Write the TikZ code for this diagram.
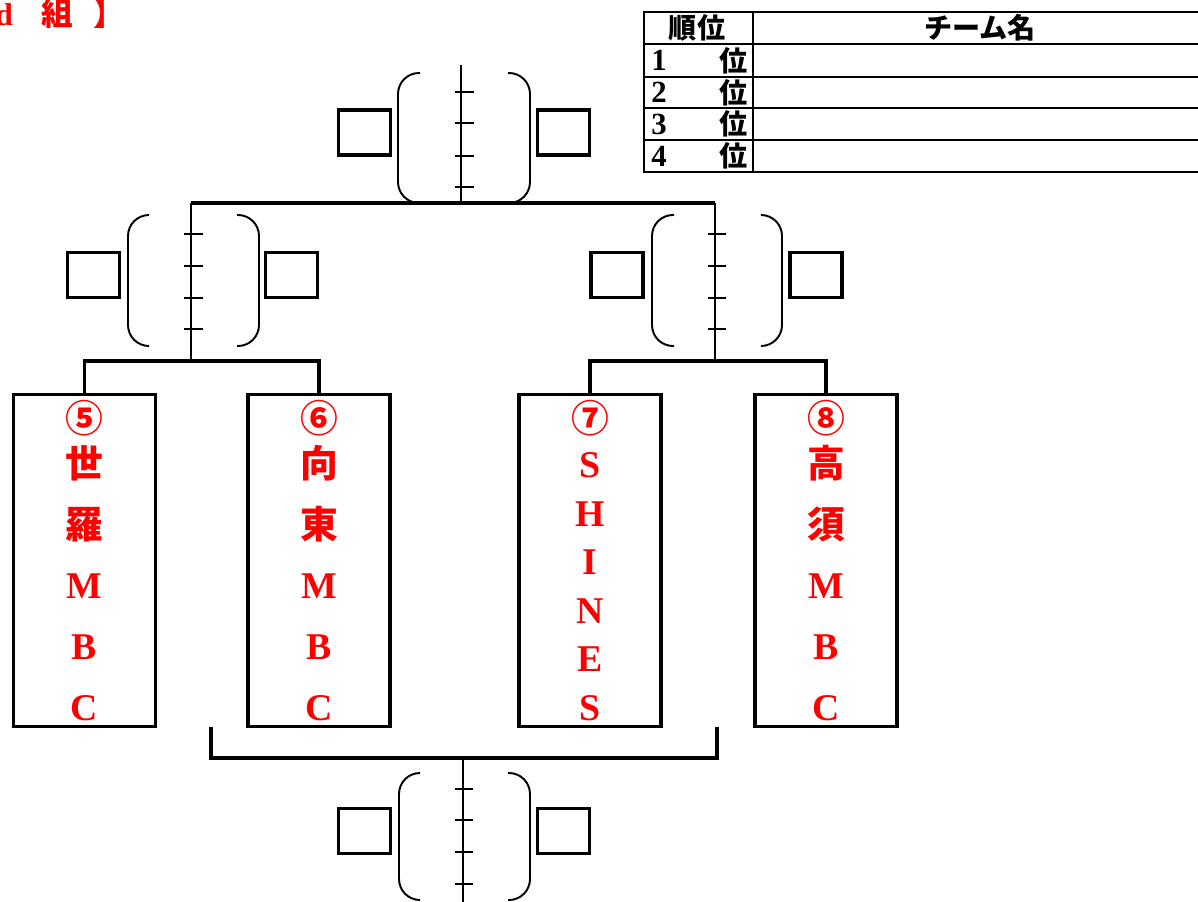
\documentclass[tikz,border=0pt]{standalone}
\usepackage{fontspec}
\setmainfont{Liberation Serif}
\newfontfamily\jpfont{Noto Sans CJK JP Bold}
\newcommand{\jp}[1]{{\jpfont #1}}

\tikzset{
  teambox/.style={draw, line width=1.8pt, minimum width=2.84cm, minimum height=6.6cm, align=center, text=red, font=\fontsize{21.5}{#1}\selectfont\bfseries},
  teambox/.default=34.6pt,
  scorebox/.style={draw, line width=1.8pt, minimum width=1.04cm, minimum height=0.9cm},
  paren/.style={line width=1.1pt, rounded corners=0.42cm},
  bracketline/.style={line width=1.8pt},
  tickline/.style={line width=0.85pt},
  tableline/.style={line width=1.7pt},
  tabletext/.style={font=\fontsize{16}{16}\selectfont\bfseries, inner sep=0pt}
}

\begin{document}
\begin{tikzpicture}[x=0.02cm, y=-0.02cm]
\useasboundingbox (0,0) rectangle (1198,902);

% Title
\node[anchor=base west, inner sep=0pt, text=red, font=\fontsize{18}{18}\selectfont\bfseries] (title) at (-5,26) {d\hspace{16pt}\jp{組}\hspace{12pt}\jp{】}};

% Ranking table
\draw[tableline] (644,12) rectangle (1215,172);
\draw[tableline] (644,44) -- (1215,44) (644,77) -- (1215,77) (644,108) -- (1215,108) (644,140) -- (1215,140);
\draw[tableline] (753,12) -- (753,172);
\node[tabletext] (rankhead) at (697,28) {\jp{順位}};
\node[tabletext] (teamhead) at (980,28) {\jp{チーム名}};
\node[tabletext, font=\fontsize{17.5}{17.5}\selectfont\bfseries, anchor=west] (n1) at (651,60.5) {1};
\node[tabletext] (r1) at (734,60.5) {\jp{位}};
\node[tabletext, font=\fontsize{17.5}{17.5}\selectfont\bfseries, anchor=west] (n2) at (651,92.5) {2};
\node[tabletext] (r2) at (734,92.5) {\jp{位}};
\node[tabletext, font=\fontsize{17.5}{17.5}\selectfont\bfseries, anchor=west] (n3) at (651,124) {3};
\node[tabletext] (r3) at (734,124) {\jp{位}};
\node[tabletext, font=\fontsize{17.5}{17.5}\selectfont\bfseries, anchor=west] (n4) at (651,156) {4};
\node[tabletext] (r4) at (734,156) {\jp{位}};

% Teams
\node[teambox] (t5) at (84.5,560.5) {\jp{⑤}\\[-9pt]\jp{世}\\\jp{羅}\\M\\B\\C};
\node[teambox] (t6) at (319,560.5) {\jp{⑥}\\[-9pt]\jp{向}\\\jp{東}\\M\\B\\C};
\node[teambox=27.6pt] (t7) at (590,560.5) {\jp{⑦}\\[-2pt]S\\H\\I\\N\\E\\S};
\node[teambox] (t8) at (826,560.5) {\jp{⑧}\\[-9pt]\jp{高}\\\jp{須}\\M\\B\\C};

% Bracket lines
\coordinate (top) at (461,65);
\coordinate (fj) at (461,203);
\coordinate (ak) at (191,203);
\coordinate (aj) at (191,361);
\coordinate (bk) at (715,203);
\coordinate (bj) at (715,361);
\coordinate (l3) at (211,727);
\coordinate (r3) at (717,727);
\coordinate (tj) at (463,758);
\coordinate (tb) at (463,905);
\draw[bracketline] (t5.north) |- (aj) -| (t6.north);
\draw[bracketline] (t7.north) |- (bj) -| (t8.north);
\draw[bracketline] (ak) -- (bk);
\draw[bracketline] (l3) |- (tj) -| (r3);
\draw[tickline] (ak) -- (aj);
\draw[tickline] (bk) -- (bj);
\draw[tickline] (fj) -- (top);
\draw[tickline] (tj) -- (tb);

% Final
\node[scorebox] (fL) at (364.5,132.5) {};
\node[scorebox] (fR) at (563.5,132.5) {};
\draw[paren] (420,73) -- (398,73) -- (398,203) -- (420,203);
\draw[paren] (508,73) -- (530,73) -- (530,203) -- (508,203);
\draw[tickline] (455,92) -- (474,92) (455,123) -- (474,123) (455,156) -- (474,156) (455,187) -- (474,187);

% Semi-final left
\node[scorebox] (aL) at (93.5,275) {};
\node[scorebox] (aR) at (291.5,275) {};
\draw[paren] (149,215) -- (128,215) -- (128,346) -- (149,346);
\draw[paren] (237,215) -- (259,215) -- (259,346) -- (237,346);
\draw[tickline] (184,234) -- (203,234) (184,266) -- (203,266) (184,298) -- (203,298) (184,329) -- (203,329);

% Semi-final right
\node[scorebox] (bL) at (617,275) {};
\node[scorebox] (bR) at (816,275) {};
\draw[paren] (674,215) -- (652,215) -- (652,346) -- (674,346);
\draw[paren] (761,215) -- (782,215) -- (782,346) -- (761,346);
\draw[tickline] (708,234) -- (726,234) (708,266) -- (726,266) (708,298) -- (726,298) (708,329) -- (726,329);

% Third place
\node[scorebox] (tL) at (364.5,831) {};
\node[scorebox] (tR) at (563.5,831) {};
\draw[paren] (420,773) -- (399,773) -- (399,900) -- (420,900);
\draw[paren] (508,773) -- (530,773) -- (530,900) -- (508,900);
\draw[tickline] (455,789) -- (473,789) (455,820) -- (473,820) (455,852) -- (473,852) (455,884) -- (473,884);
\end{tikzpicture}
\end{document}
